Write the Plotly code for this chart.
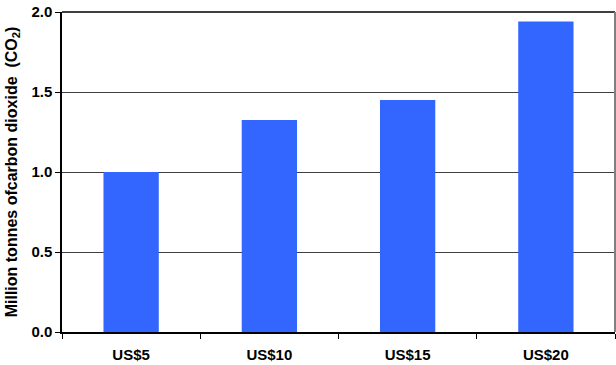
import plotly.graph_objects as go

# Carbon price scenarios and the resulting CO2 volumes
prices = ["US$5", "US$10", "US$15", "US$20"]
co2_million_tonnes = [1.0, 1.325, 1.45, 1.94]
y_ticks = [0.0, 0.5, 1.0, 1.5, 2.0]

fig = go.Figure(
    go.Bar(
        x=prices,
        y=co2_million_tonnes,
        marker=dict(color="#3366FF", line=dict(width=0)),
        width=0.4,
    )
)

bold = dict(family="Arial, Liberation Sans, sans-serif", size=15, color="#000000", weight="bold")

fig.update_layout(
    width=616,
    height=365,
    margin=dict(l=62, r=1, t=12, b=33),
    paper_bgcolor="white",
    plot_bgcolor="white",
    showlegend=False,
    font=bold,
    xaxis=dict(
        type="category",
        showline=True,
        linecolor="#000000",
        linewidth=1.5,
        ticks="outside",
        tickson="boundaries",
        ticklen=5,
        tickcolor="#000000",
        tickfont=bold,
        ticklabelstandoff=8,
        showgrid=False,
    ),
    yaxis=dict(
        range=[0, 2.0],
        tickvals=y_ticks,
        ticktext=[f"{v:.1f}" for v in y_ticks],
        showline=True,
        linecolor="#000000",
        linewidth=1.5,
        ticks="outside",
        ticklen=5,
        tickcolor="#000000",
        showgrid=True,
        gridcolor="#404040",
        gridwidth=1,
        zeroline=False,
        tickfont=bold,
        title=dict(
            text="Million tonnes ofcarbon dioxide  (CO<sub>2</sub>)",
            font=dict(family="Arial, Liberation Sans, sans-serif", size=16, color="#000000", weight="bold"),
            standoff=10,
        ),
    ),
    shapes=[
        # top frame line and grey right border
        dict(type="line", xref="paper", yref="paper", x0=0, x1=1, y0=1, y1=1,
             line=dict(color="#000000", width=1.5)),
        dict(type="line", xref="paper", yref="paper", x0=1, x1=1, y0=0, y1=1,
             line=dict(color="#808080", width=2)),
    ],
)

fig.write_html("out.html")
